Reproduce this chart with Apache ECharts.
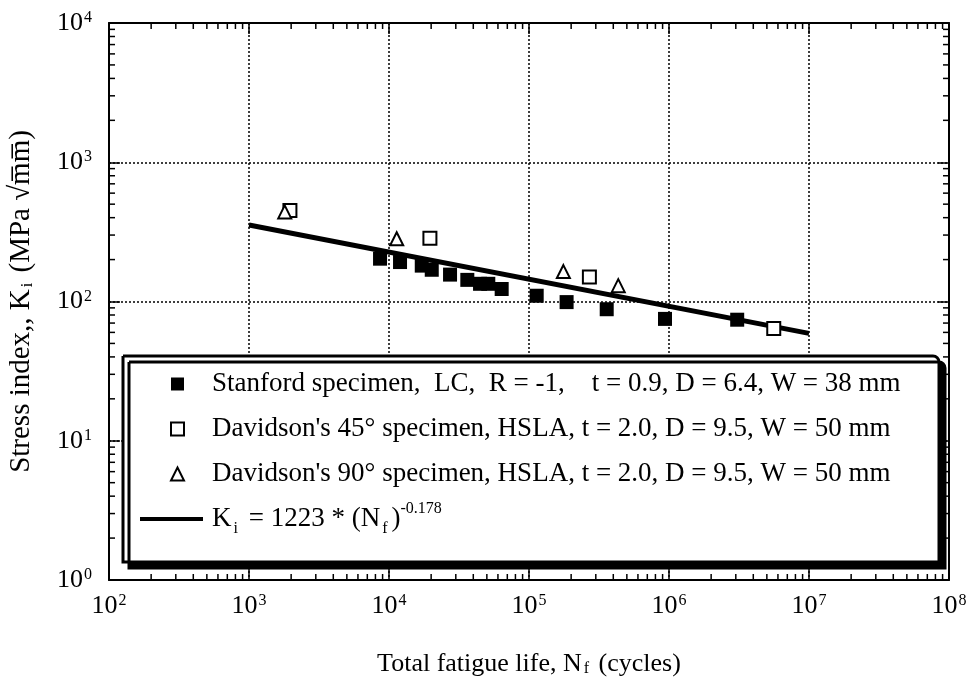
<!DOCTYPE html>
<html><head><meta charset="utf-8">
<script src="https://cdn.jsdelivr.net/npm/echarts@6/dist/echarts.min.js"></script>
<style>html,body{margin:0;padding:0;background:#fff}#c{width:969px;height:687px}</style>
</head><body><div id="c"></div>
<script>
// ---- data ----
const stanfordLife = [8630, 11990, 17140, 20200, 27290, 36260, 44700, 51200, 63800, 113500, 185600, 359000, 936000, 3070000];
const stanfordK    = [203, 192, 181, 169, 156, 143, 134, 134, 123, 110, 99, 88, 75, 74];
const dav45Life = [1960, 19600, 270000, 5600000];
const dav45K    = [450, 285, 150, 64];
const dav90Life = [1800, 11350, 176000, 434000];
const dav90K    = [440, 282, 164, 130];
const fitLife = [1000, 10000000];
const fitK    = [354, 59];
const xMinorTicks = [2,3,4,5,6,7,8,9].flatMap(m => [2,3,4,5,6,7].map(e => m * Math.pow(10, e)));
const yMinorTicks = [2,3,4,5,6,7,8,9].flatMap(m => [0,1,2,3].map(e => m * Math.pow(10, e)));
const markerSeriesNames = ['Stanford', 'Davidson45', 'Davidson90'];
const lineSeriesNames = ['Fit'];
const legendTexts = {
  Stanford: 'Stanford specimen,  LC,  R = -1,    t = 0.9, D = 6.4, W = 38 mm',
  Davidson45: "Davidson's 45\u00B0 specimen, HSLA, t = 2.0, D = 9.5, W = 50 mm",
  Davidson90: "Davidson's 90\u00B0 specimen, HSLA, t = 2.0, D = 9.5, W = 50 mm",
  Fit: 'K{sub|i} = 1223 * (N{sub|f}){sup|-0.178}'
};
const xTitle = 'Total fatigue life, N{sub|f} (cycles)';
const yTitle = 'Stress index,, K{sub|i} (MPa \u221Am\u0305m\u0305)';

const zip = (a, b) => a.map((v, i) => [v, b[i]]);
const FONT = '"Liberation Serif", "DejaVu Serif", serif';
const supFmt = v => '10{sup|' + Math.round(Math.log10(v)) + '}';
const tickRich = {
  sup: { fontSize: 16, fontFamily: FONT, color: '#000', verticalAlign: 'top', lineHeight: 14, padding: [0, 0, 0, 1] }
};
const titleRich = {
  sub: { fontSize: 16, fontFamily: FONT, color: '#000', verticalAlign: 'bottom', lineHeight: 10, padding: [0, 3, 0, 2] },
  sup: { fontSize: 16, fontFamily: FONT, color: '#000', verticalAlign: 'top', lineHeight: 10 }
};
const legendTextStyle = {
  fontFamily: FONT, fontSize: 27, color: '#000', lineHeight: 36,
  rich: {
    sub: { fontSize: 16, fontFamily: FONT, color: '#000', verticalAlign: 'bottom', lineHeight: 10, padding: [0, 4, 0, 2] },
    sup: { fontSize: 16, fontFamily: FONT, color: '#000', verticalAlign: 'top', lineHeight: 10 }
  }
};

const chart = echarts.init(document.getElementById('c'), null, { renderer: 'canvas' });

function minorTickSeries(vals, isX) {
  return {
    type: 'custom', silent: true, z: 5, clip: false,
    xAxisIndex: 0, yAxisIndex: 0,
    data: vals.map(v => isX ? [v, 1] : [100, v]),
    renderItem: function (params, api) {
      const cs = params.coordSys;
      const p = api.coord([api.value(0), api.value(1)]);
      const st = { stroke: '#000', lineWidth: 1.5 };
      const L = 6;
      if (isX) {
        const b = cs.y + cs.height, t = cs.y;
        return { type: 'group', children: [
          { type: 'line', shape: { x1: p[0], y1: b, x2: p[0], y2: b - L }, style: st },
          { type: 'line', shape: { x1: p[0], y1: t, x2: p[0], y2: t + L }, style: st }
        ] };
      } else {
        const l = cs.x, r = cs.x + cs.width;
        return { type: 'group', children: [
          { type: 'line', shape: { x1: l, y1: p[1], x2: l + L, y2: p[1] }, style: st },
          { type: 'line', shape: { x1: r, y1: p[1], x2: r - L, y2: p[1] }, style: st }
        ] };
      }
    }
  };
}

const axisCommon = {
  axisLine: { show: true, onZero: false, lineStyle: { color: '#000', width: 2 } },
  axisTick: { show: true, inside: true, length: 11, lineStyle: { color: '#000', width: 1.5 } }
};

const option = {
  backgroundColor: '#fff',
  animation: false,
  grid: { left: 109, right: 20, top: 23, bottom: 107, containLabel: false, outerBoundsMode: 'none' },
  xAxis: [
    Object.assign({
      type: 'log', logBase: 10, min: 100, max: 1e8, splitNumber: 6, position: 'bottom',
      name: xTitle, nameLocation: 'middle', nameGap: 71,
      nameTextStyle: { fontFamily: FONT, fontSize: 26, color: '#000', rich: titleRich },
      axisLabel: { formatter: supFmt, fontFamily: FONT, fontSize: 26, color: '#000', margin: 13, rich: tickRich },
      splitLine: { show: true, lineStyle: { color: '#000', width: 1.5, type: [2, 2] } }
    }, axisCommon),
    Object.assign({
      type: 'log', logBase: 10, min: 100, max: 1e8, splitNumber: 6, position: 'top',
      axisLabel: { show: false }, splitLine: { show: false }
    }, axisCommon)
  ],
  yAxis: [
    Object.assign({
      type: 'log', logBase: 10, min: 1, max: 1e4, splitNumber: 4, position: 'left',
      name: yTitle, nameLocation: 'middle', nameGap: 73, nameRotate: 90,
      nameTextStyle: { fontFamily: FONT, fontSize: 29, color: '#000', rich: titleRich },
      axisLabel: { formatter: supFmt, fontFamily: FONT, fontSize: 26, color: '#000', margin: 17, rich: tickRich },
      splitLine: { show: true, lineStyle: { color: '#000', width: 1.5, type: [2, 2] } }
    }, axisCommon),
    Object.assign({
      type: 'log', logBase: 10, min: 1, max: 1e4, splitNumber: 4, position: 'right',
      axisLabel: { show: false }, splitLine: { show: false }
    }, axisCommon)
  ],
  graphic: [{
    type: 'rect', z: 3,
    shape: { x: 123, y: 356, width: 816, height: 206, r: [0, 6, 0, 0] },
    style: { fill: '#fff', stroke: '#000', lineWidth: 3, shadowColor: '#000', shadowOffsetX: 6, shadowOffsetY: 6, shadowBlur: 0 }
  }],
  legend: [{
    z: 10,
    data: markerSeriesNames,
    orient: 'vertical', left: 165, top: 361,
    itemWidth: 13, itemHeight: 13, itemGap: 9,
    formatter: n => legendTexts[n],
    textStyle: Object.assign({ padding: [0, 0, 0, 23] }, legendTextStyle)
  }, {
    z: 10,
    data: [{ name: 'Fit', icon: 'rect' }],
    orient: 'vertical', left: 135, top: 496,
    itemWidth: 63, itemHeight: 4,
    formatter: n => legendTexts[n],
    textStyle: Object.assign({ padding: [0, 0, 0, 4] }, legendTextStyle)
  }],
  series: [
    { name: 'Stanford', type: 'scatter', symbol: 'rect', symbolSize: 14, z: 2,
      itemStyle: { color: '#000', opacity: 1 }, data: zip(stanfordLife, stanfordK) },
    { name: 'Davidson45', type: 'scatter', symbol: 'rect', symbolSize: 13, z: 2,
      itemStyle: { color: '#fff', borderColor: '#000', borderWidth: 2, opacity: 1 }, data: zip(dav45Life, dav45K) },
    { name: 'Davidson90', type: 'scatter', symbol: 'triangle', symbolSize: 13, z: 2,
      itemStyle: { color: '#fff', borderColor: '#000', borderWidth: 2, opacity: 1 }, data: zip(dav90Life, dav90K) },
    { name: 'Fit', type: 'line', symbol: 'none', z: 1,
      lineStyle: { color: '#000', width: 5 }, itemStyle: { color: '#000' }, data: zip(fitLife, fitK) },
    minorTickSeries(xMinorTicks, true),
    minorTickSeries(yMinorTicks, false)
  ]
};
chart.setOption(option);
</script>
</body></html>
